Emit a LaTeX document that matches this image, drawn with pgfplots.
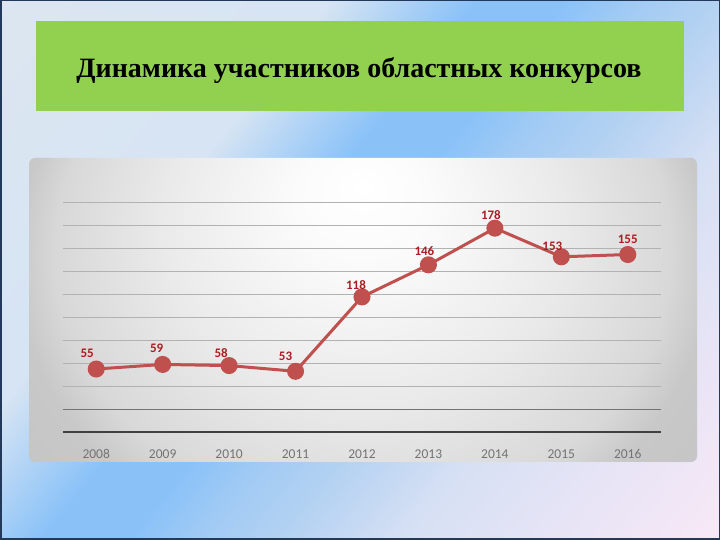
\documentclass[border=0pt]{standalone}
\usepackage{pgfplots}
\usepackage{pgfplotstable}
\pgfplotsset{compat=1.18}
\usepackage{fontspec}
\setmainfont{Liberation Serif}
\newfontfamily\carlito{Carlito}

% slide colours
\definecolor{bgA}{HTML}{DDE6F1}
\definecolor{bgB}{HTML}{D6E4F3}
\definecolor{bgC}{HTML}{8AC2F8}
\definecolor{bgD}{HTML}{A2CBF4}
\definecolor{bgE}{HTML}{B4D2F2}
\definecolor{bgF}{HTML}{D6E0F4}
\definecolor{bgG}{HTML}{E6E4F6}
\definecolor{bgH}{HTML}{F8E8F6}
\definecolor{slideframe}{HTML}{23395A}
\definecolor{titlegreen}{HTML}{92D050}
\definecolor{pw1}{HTML}{FBFBFB}
\definecolor{pw2}{HTML}{EAEAEA}
\definecolor{pw3}{HTML}{D8D8D8}
\definecolor{pw4}{HTML}{C8C8C8}
\definecolor{pw5}{HTML}{C2C2C2}
\definecolor{linered}{HTML}{C0504D}
\definecolor{labelred}{RGB}{170,30,35}

\pgfdeclarehorizontalshading{slidebg}{100bp}{color(0bp)=(bgA); color(31bp)=(bgA);
  color(42bp)=(bgB); color(46.7bp)=(bgC); color(49.6bp)=(bgC); color(52bp)=(bgD);
  color(54.6bp)=(bgE); color(58.4bp)=(bgF); color(63bp)=(bgG); color(68.7bp)=(bgH);
  color(100bp)=(bgH)}
\pgfdeclareradialshading{panelsh}{\pgfpoint{0bp}{12.5bp}}{color(0bp)=(white);
  color(5bp)=(pw1); color(15bp)=(pw2); color(23bp)=(pw3); color(26bp)=(pw4);
  color(35bp)=(pw5); color(50bp)=(pw5)}

\pgfplotstableread{
year val dx dy
2008 55 -9 16
2009 59 -6 16
2010 58 -8 13
2011 53 -10 15
2012 118 -6 12
2013 146 -4 14
2014 178 -4 13
2015 153 -9 11
2016 155 0 15
}\participants

\begin{document}
\begin{tikzpicture}[x=1pt,y=1pt]
\useasboundingbox (0,0) rectangle (720,540);
% slide background
\begin{scope}
  \clip (0,0) rectangle (720,540);
  \begin{scope}[transform canvas={rotate around={-39:(360,270)}}]
    \shade[shading=slidebg] (-240,-330) rectangle (960,870);
  \end{scope}
\end{scope}
\draw[slideframe, line width=1.5pt] (0.75,0.75) rectangle (719.25,539.25);
% title box
\fill[titlegreen] (36,429) rectangle (684,519);
\node[anchor=base, inner sep=0pt, font=\fontsize{28}{28}\selectfont\bfseries]
  at (359,462) {Динамика участников областных конкурсов};
% chart panel
\begin{scope}
  \clip[rounded corners=6pt] (29,78) rectangle (697,382);
  \shade[shading=panelsh] (29,-80) rectangle (697,500);
\end{scope}

\begin{axis}[
  at={(63pt,108pt)}, anchor=south west,
  width=598pt, height=229pt, scale only axis,
  xmin=2007.5, xmax=2016.5, ymin=0, ymax=200,
  axis x line*=bottom, axis y line*=left,
  y axis line style={draw=none},
  x axis line style={draw=black!75, line width=1.5pt},
  xtick={2008,...,2016},
  ytick={20,40,...,200}, yticklabels={},
  tick style={draw=none},
  ymajorgrids,
  major grid style={black!30, line width=1pt},
  extra y ticks={20}, extra y tick labels={},
  extra tick style={major grid style={black!55, line width=1pt}},
  xticklabel style={font=\carlito\fontsize{13.5}{13.5}\selectfont, text=black!55,
    anchor=base, yshift=-26.5pt},
  /pgf/number format/1000 sep={},
  /pgf/number format/assume math mode=true,
  clip=false,
]
\addplot[color=linered, line width=3pt, mark=*, mark size=7pt,
  mark options={fill=linered, draw=linered},
  nodes near coords, point meta=explicit,
  visualization depends on={\thisrow{dx}\as\labdx},
  visualization depends on={\thisrow{dy}\as\labdy},
  nodes near coords style={anchor=center, xshift=\labdx pt, yshift=\labdy pt,
    font=\carlito\bfseries\fontsize{13}{13}\selectfont, text=labelred},
] table[x=year, y=val, meta=val] {\participants};
\end{axis}
\end{tikzpicture}
\end{document}
